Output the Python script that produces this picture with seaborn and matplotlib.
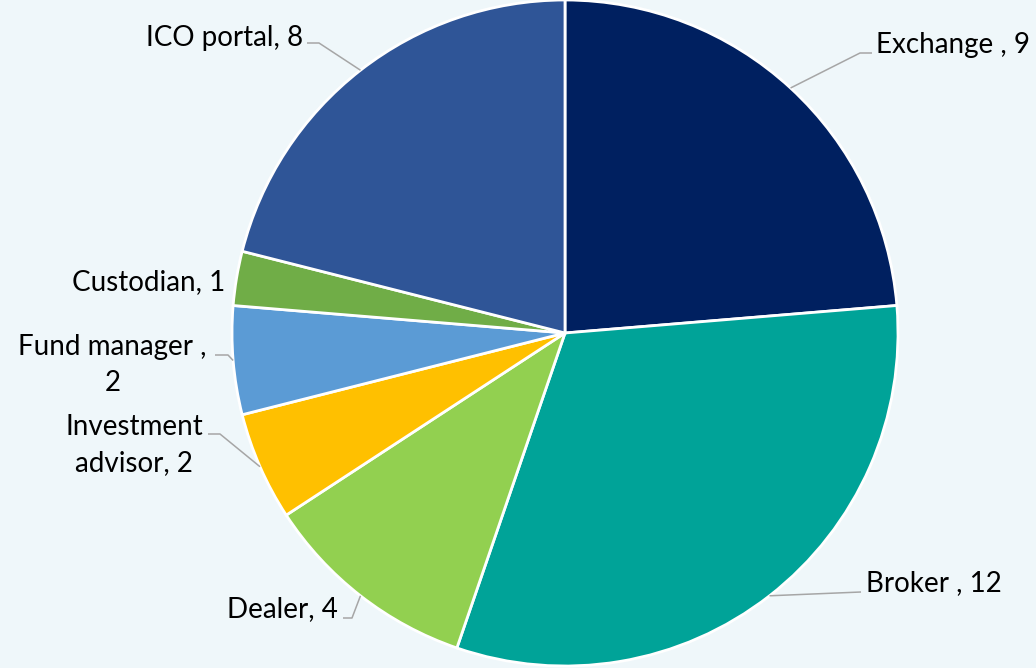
import numpy as np
import seaborn as sns
import matplotlib.pyplot as plt

# data
labels = ['Exchange , 9', 'Broker , 12', 'Dealer, 4', 'Investment\nadvisor, 2',
          'Fund manager ,\n2', 'Custodian, 1', 'ICO portal, 8']
values = [9, 12, 4, 2, 2, 1, 8]
colors = ['#002060', '#00A398', '#92D050', '#FFC000', '#5B9BD5', '#70AD47', '#2F5597']

# layout (pixel-ish units, y up)
label_xy = [(876, 623), (866, 85), (338, 59), (203, 223), (207, 303), (225, 386), (303, 630)]
label_ha = ['left', 'left', 'right', 'right', 'right', 'right', 'right']
elbows = [((860, 615), (872, 615)), ((861, 76), (861, 76)), ((352, 50), (343, 50)),
          ((220, 234), (208, 234)), ((228, 313), (215, 313)), None, ((319, 625), (307, 625))]

sns.set_theme(style='white')
plt.rcParams['font.family'] = ['Lato', 'DejaVu Sans']
bg = '#EFF7FA'

fig = plt.figure(figsize=(10.36, 6.68), dpi=100)
fig.patch.set_facecolor(bg)
ax = fig.add_axes([0, 0, 1, 1])
ax.set_facecolor(bg)

cx, cy, r = 565, 335, 333
wedges, _ = ax.pie(values, colors=colors, startangle=90, counterclock=False,
                   center=(cx, cy), radius=r,
                   wedgeprops=dict(edgecolor='white', linewidth=2))
ax.set_xlim(0, 1036)
ax.set_ylim(0, 668)
ax.set_aspect('equal')
ax.axis('off')

for w, lab, xy, ha, el in zip(wedges, labels, label_xy, label_ha, elbows):
    ang = np.deg2rad((w.theta1 + w.theta2) / 2)
    ex, ey = cx + r * np.cos(ang), cy + r * np.sin(ang)
    if el is not None:
        ax.plot([ex, el[0][0], el[1][0]], [ey, el[0][1], el[1][1]],
                color='#A6A6A6', lw=1.1, solid_capstyle='butt')
    ax.text(xy[0], xy[1], lab, ha=ha, va='center', multialignment='center',
            fontsize=20, color='black', linespacing=1.5)

fig.savefig('out.png', dpi=100, facecolor=bg)
